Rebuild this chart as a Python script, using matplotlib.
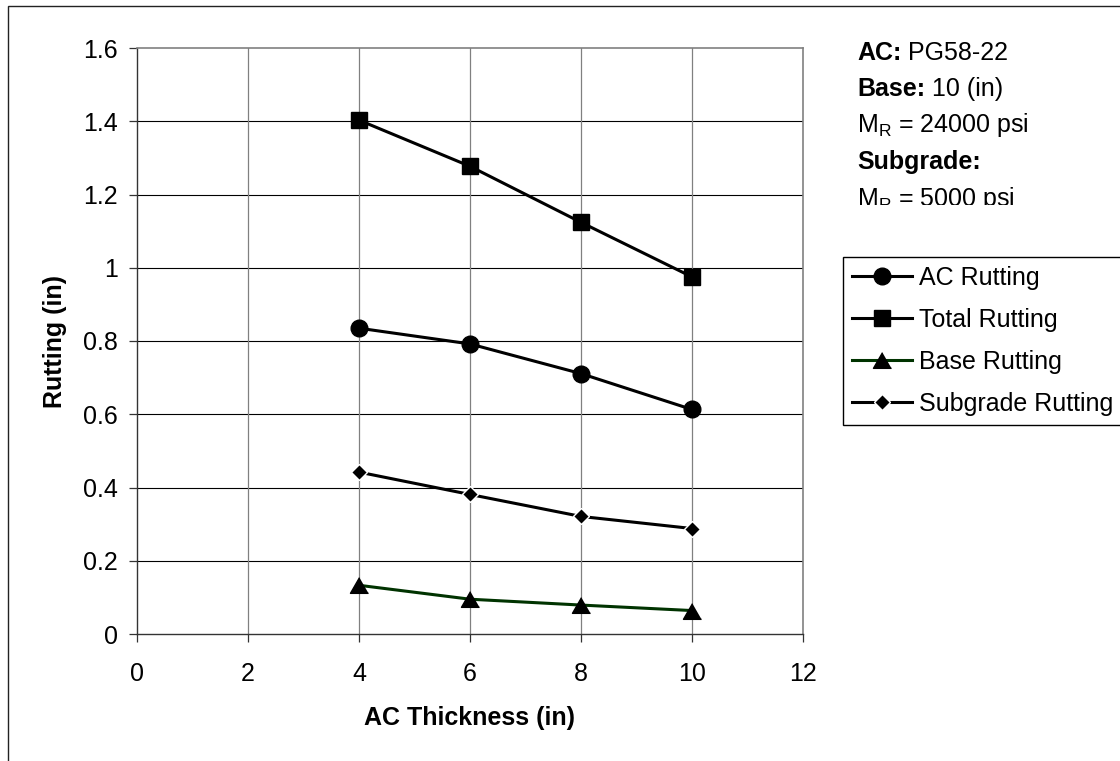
import matplotlib
matplotlib.use("Agg")
import matplotlib.pyplot as plt
from matplotlib.patches import Rectangle
from matplotlib.ticker import FuncFormatter
from matplotlib.transforms import Bbox, TransformedBbox

plt.rcParams['font.family'] = ['Liberation Sans', 'DejaVu Sans']

# data
thickness = [4, 6, 8, 10]
ac_rut = [0.835, 0.792, 0.711, 0.613]
total_rut = [1.403, 1.277, 1.124, 0.975]
base_rut = [0.133, 0.095, 0.079, 0.064]
subgrade_rut = [0.442, 0.381, 0.321, 0.288]

series_labels = ["AC Rutting", "Total Rutting", "Base Rutting", "Subgrade Rutting"]
xticks = [0, 2, 4, 6, 8, 10, 12]
yticks = [0, 0.2, 0.4, 0.6, 0.8, 1.0, 1.2, 1.4, 1.6]

W, H = 1120, 761


def fx(x):
    return x / W


def fy(y):
    return 1 - y / H


fig = plt.figure(figsize=(W / 100, H / 100), dpi=100)
fig.patch.set_facecolor('white')

# outer chart-area border (runs off the right and bottom edges)
fig.patches.append(Rectangle((fx(8), -0.1), 1.2, fy(6) + 0.1,
                             transform=fig.transFigure, fill=False,
                             edgecolor='#222222', lw=1.0))

ax = fig.add_axes([fx(137), fy(634), fx(803 - 137), (634 - 48) / H])

lw = 2.2
tri = [(0, 1), (-1.15, -1), (1.15, -1)]
ax.plot(thickness, ac_rut, color='black', lw=lw, marker='o', ms=12,
        label=series_labels[0], zorder=4)
ax.plot(thickness, total_rut, color='black', lw=lw, marker='s', ms=11,
        label=series_labels[1], zorder=4)
ax.plot(thickness, base_rut, color='#003300', lw=lw, marker=tri, ms=13,
        mfc='black', mec='black', label=series_labels[2], zorder=4)
ax.plot(thickness, subgrade_rut, color='black', lw=lw, marker='D', ms=8,
        mfc='black', mec='white', mew=1.0, label=series_labels[3], zorder=4)

ax.set_xlim(0, 12)
ax.set_ylim(0, 1.6)
ax.set_xticks(xticks)
ax.set_yticks(yticks)
ax.yaxis.set_major_formatter(FuncFormatter(lambda v, p: f"{v:g}"))

for y in yticks[1:-1]:
    ax.axhline(y, color='black', lw=0.8, zorder=1)
for x in xticks[1:-1]:
    ax.axvline(x, color='#808080', lw=0.9, zorder=1)

for s in ['top', 'right']:
    ax.spines[s].set_color('#808080')
    ax.spines[s].set_linewidth(1.2)
for s in ['left', 'bottom']:
    ax.spines[s].set_color('#333333')
    ax.spines[s].set_linewidth(1.0)

ax.tick_params(axis='both', direction='out', length=6, width=0.9,
               labelsize=18, color='#333333')
ax.tick_params(axis='x', pad=14)
ax.tick_params(axis='y', pad=8)

ax.set_xlabel("AC Thickness (in)", fontsize=18, fontweight='bold', va='center')
ax.set_ylabel("Rutting (in)", fontsize=18, fontweight='bold', va='center')
ax.xaxis.set_label_coords(0.5, (634 - 718) / 586)
ax.yaxis.set_label_coords((55 - 137) / 666, 0.5)

# legend, its right edge runs past the figure edge
leg = fig.legend(loc='upper left',
                 bbox_to_anchor=(fx(843), fy(430), fx(1135 - 843), fy(257) - fy(430)),
                 bbox_transform=fig.transFigure, borderaxespad=0, mode='expand',
                 fontsize=18, handlelength=2.4, handletextpad=0.3,
                 borderpad=0.35, labelspacing=0.72, fancybox=False,
                 framealpha=1, edgecolor='black')
leg.get_frame().set_linewidth(1.0)

# side notes (text box, last line cut off at the box bottom)
tx = fx(857)
t1 = fig.text(tx, fy(60), "AC:", fontsize=18, fontweight='bold', va='baseline')
ax.annotate("PG58-22", xy=(1, 0), xycoords=t1, xytext=(5, 0),
            textcoords='offset points', va='bottom', ha='left', fontsize=18,
            annotation_clip=False)
t2 = fig.text(tx, fy(96), "Base:", fontsize=18, fontweight='bold', va='baseline')
ax.annotate("10 (in)", xy=(1, 0), xycoords=t2, xytext=(5, 0),
            textcoords='offset points', va='bottom', ha='left', fontsize=18,
            annotation_clip=False)
fig.text(tx, fy(132), r"M$_\mathregular{R}$ = 24000 psi", fontsize=18, va='baseline')
fig.text(tx, fy(169), "Subgrade:", fontsize=18, fontweight='bold', va='baseline')
t5 = fig.text(tx, fy(206), r"M$_\mathregular{R}$ = 5000 psi", fontsize=18,
              va='baseline', clip_on=True)
t5.set_clip_box(TransformedBbox(Bbox.from_extents(0, fy(205), 1, 1),
                                fig.transFigure))

fig.savefig('out.png', dpi=100)
